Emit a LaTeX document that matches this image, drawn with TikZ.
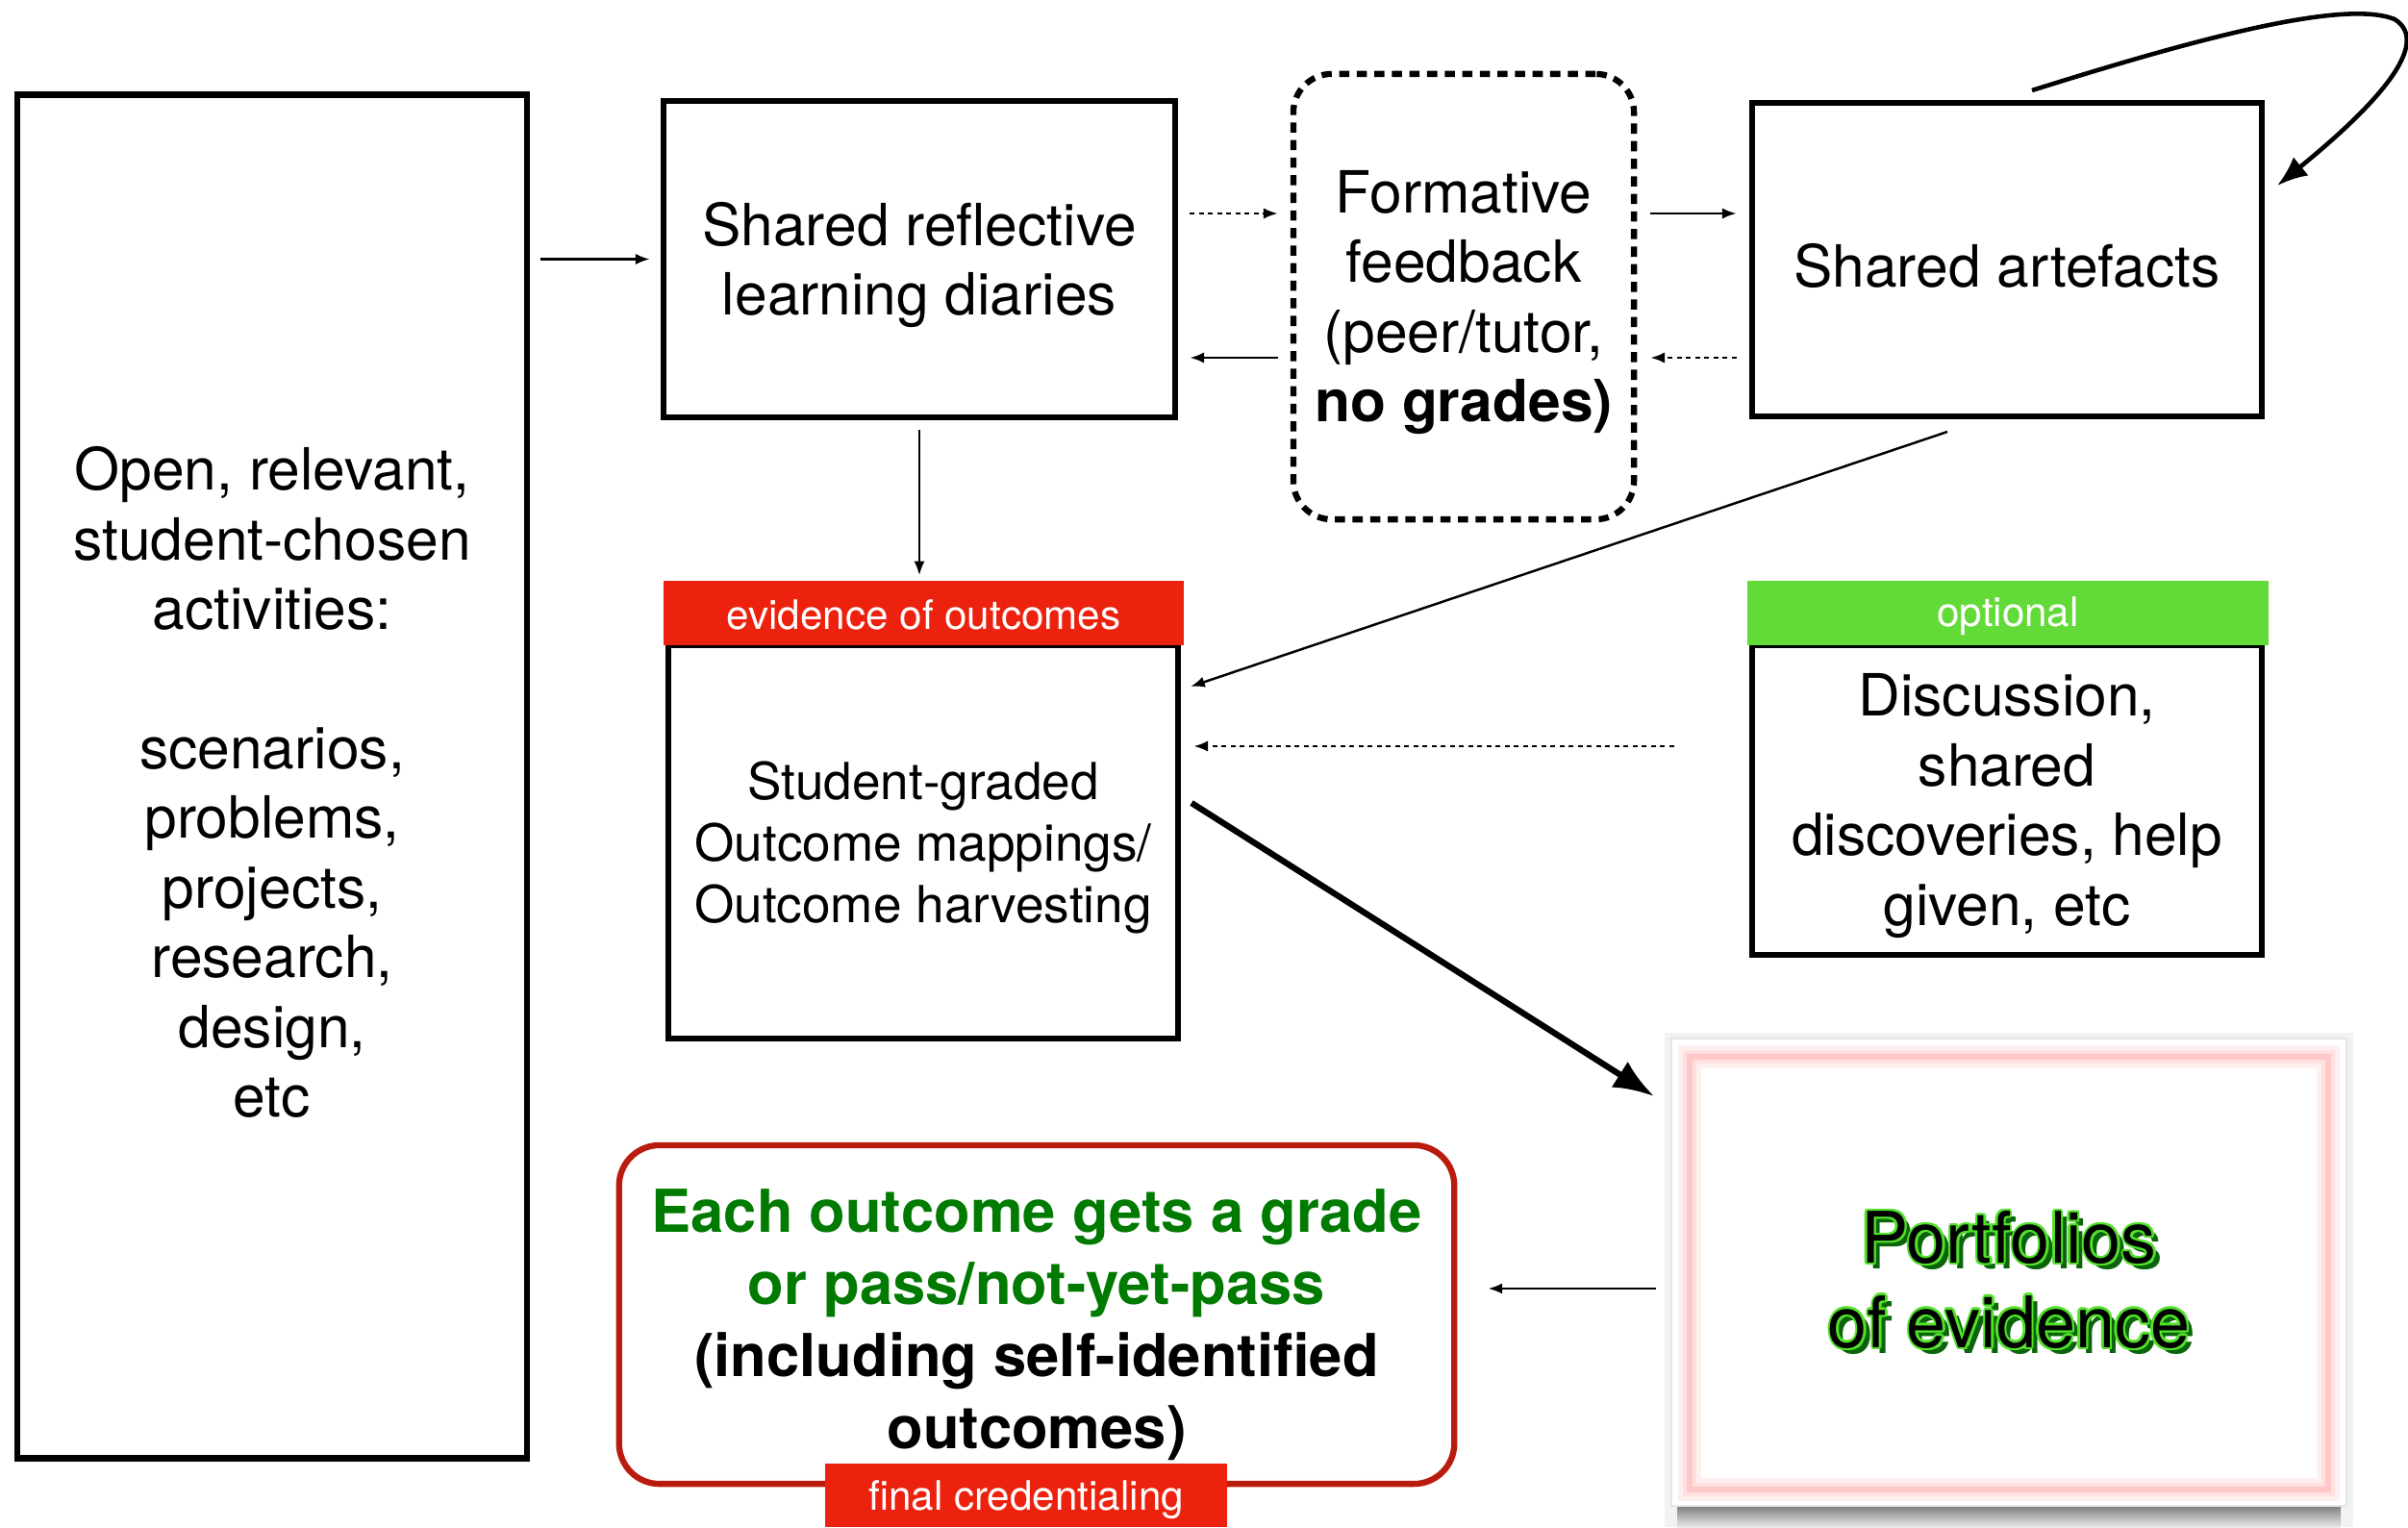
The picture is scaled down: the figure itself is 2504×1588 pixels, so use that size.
\documentclass[tikz,border=0pt]{standalone}
\usepackage{fontspec}
\setmainfont{TeX Gyre Heros}
\usetikzlibrary{arrows.meta,calc}
\definecolor{labred}{RGB}{236,34,15}
\definecolor{labgreen}{RGB}{98,218,56}
\definecolor{boxred}{RGB}{185,28,14}
\definecolor{txtgreen}{RGB}{0,122,0}
\definecolor{limeglow}{RGB}{80,225,40}
\definecolor{shadowgreen}{RGB}{10,100,10}
\begin{document}
\begin{tikzpicture}[x=0.01cm,y=-0.01cm,
  box/.style={draw,line width=1.8pt,rectangle,inner sep=0pt},
  txt/.style={align=center,inner sep=0pt,yshift=-0.06cm},
  bigtxt/.style={txt,font=\fontsize{17.2}{20.6}\selectfont},
  midtxt/.style={txt,font=\fontsize{15.1}{18.2}\selectfont},
  labtxt/.style={font=\fontsize{12}{14}\selectfont,text=white,inner sep=0pt},
  pfont/.style={font=\fontsize{21}{25}\selectfont,align=center,inner sep=0pt},
  thinarr/.style={line width=0.7pt,-{Latex[length=4.2pt,width=3.2pt]}},
  dotarr/.style={thinarr,dash pattern=on 1.4pt off 1.3pt},
]
\useasboundingbox (0,0) rectangle (2504,1588);

% main boxes
\node[box,minimum width=5.30cm,minimum height=14.17cm] (left) at (283,807.5) {};
\node[bigtxt] (leftT) at (left)
  {Open, relevant,\\student-chosen\\activities:\\[20.6pt]scenarios,\\problems,\\projects,\\research,\\design,\\etc};
\node[box,minimum width=5.32cm,minimum height=3.29cm] (diaries) at (956,269.5) {};
\node[bigtxt] (diariesT) at (diaries) {Shared reflective\\learning diaries};
\node[draw,line width=1.8pt,dash pattern=on 3pt off 2.2pt,rounded corners=0.4cm,
  minimum width=3.54cm,minimum height=4.63cm,inner sep=0pt] (formative) at (1522,308.5) {};
\node[bigtxt] (formativeT) at (formative) {Formative\\feedback\\(peer/tutor,\\\textbf{no grades)}};
\node[box,minimum width=5.30cm,minimum height=3.26cm] (artefacts) at (2087,270) {};
\node[bigtxt] (artefactsT) at (artefacts) {Shared artefacts};

\node[box,minimum width=5.30cm,minimum height=4.09cm] (student) at (960,875.5) {};
\node[midtxt] (studentT) at (student) {Student-graded\\Outcome mappings/\\Outcome harvesting};
\node[fill=labred,minimum width=5.41cm,minimum height=0.67cm,inner sep=0pt] (evlabel) at (960.5,637.5) {};
\node[labtxt,yshift=-0.02cm] (evlabelT) at (evlabel) {evidence of outcomes};

\node[box,minimum width=5.30cm,minimum height=3.22cm] (discussion) at (2087,832) {};
\node[bigtxt] (discussionT) at (discussion) {Discussion,\\shared\\discoveries, help\\given, etc};
\node[fill=labgreen,minimum width=5.42cm,minimum height=0.67cm,inner sep=0pt] (optlabel) at (2088,637.5) {};
\node[labtxt,yshift=-0.03cm] (optlabelT) at (optlabel) {optional};

\node[draw=boxred,line width=1.8pt,rounded corners=0.42cm,minimum width=8.68cm,minimum height=3.52cm,
  inner sep=0pt] (grade) at (1078,1367) {};
\node[txt,font=\bfseries\fontsize{17.5}{21.3}\selectfont,yshift=-0.05cm] (gradeT) at (grade)
  {\textcolor{txtgreen}{Each outcome gets a grade}\\\textcolor{txtgreen}{or pass/not-yet-pass}\\(including self-identified\\outcomes)};
\node[fill=labred,minimum width=4.18cm,minimum height=0.66cm,inner sep=0pt] (final) at (1067,1555) {};
\node[labtxt,yshift=-0.05cm] (finalT) at (final) {final credentialing};

% portfolio
\fill[black!5] (1731,1074) rectangle (2447,1588);
\shade[top color=black!55,bottom color=black!8] (1744,1564) rectangle (2434,1588);
\node[fill=white,draw=black!10,line width=0.6pt,minimum width=7.02cm,minimum height=4.86cm,inner sep=0pt] (portf) at (2089,1323) {};
\draw[red!6,line width=7pt] (1757,1099) rectangle (2421,1549);
\draw[red!12,line width=4pt] (1757,1099) rectangle (2421,1549);
\draw[red!22,line width=1.6pt] (1757,1099) rectangle (2421,1549);
\coordinate (ptxt) at (2089,1331);
\node[pfont,text=shadowgreen,shift={(1.8pt,-1.8pt)}] at (ptxt) {Portfolios\\of evidence};
\foreach \a in {0,45,...,315}
  \node[pfont,text=limeglow,shift={(\a:0.7pt)}] at (ptxt) {Portfolios\\of evidence};
\node[pfont,text=black] (ptext) at (ptxt) {Portfolios\\of evidence};

% helper coordinates
\coordinate (r1) at (0,222);
\coordinate (r2) at (0,372);
\coordinate (r3) at (0,776);
\coordinate (r4) at (0,1340);
\coordinate (cs) at (2113,94);
\coordinate (ce) at (2368,193);
\coordinate (as) at (2025,449);
\coordinate (ae) at (1238,714);
\coordinate (ts) at (1239,835);
\coordinate (te) at (1720,1140);
\coordinate (ps) at (1722,1340);

% connectors
\draw[thinarr,shorten <=0.11cm,shorten >=0.11cm] (left.east |- diaries.west) -- (diaries.west);
\draw[dotarr,shorten <=0.12cm,shorten >=0.13cm] (diaries.east |- r1) -- (formative.west |- r1);
\draw[thinarr,shorten <=0.13cm,shorten >=0.12cm] (formative.west |- r2) -- (diaries.east |- r2);
\draw[thinarr,shorten <=0.14cm,shorten >=0.13cm] (formative.east |- r1) -- (artefacts.west |- r1);
\draw[dotarr,shorten <=0.13cm,shorten >=0.14cm] (artefacts.west |- r2) -- (formative.east |- r2);
\draw[line width=1.3pt,-{Latex[length=9pt,width=7pt]}] (cs) .. controls (2300,35) and (2440,0) .. (2490,20)
  .. controls (2530,45) and (2470,110) .. (ce);
\draw[thinarr,shorten <=0.1cm,shorten >=0.05cm] (diaries.south) -- (diaries.south |- evlabel.north);
\draw[thinarr] (as) -- (ae);
\draw[dotarr,shorten <=0.78cm,shorten >=0.13cm] (discussion.west |- r3) -- (student.east |- r3);
\draw[line width=1.8pt,-{Latex[length=12pt,width=9pt]}] (ts) -- (te);
\draw[thinarr,shorten >=0.32cm] (ps) -- (grade.east |- r4);
\end{tikzpicture}
\end{document}
